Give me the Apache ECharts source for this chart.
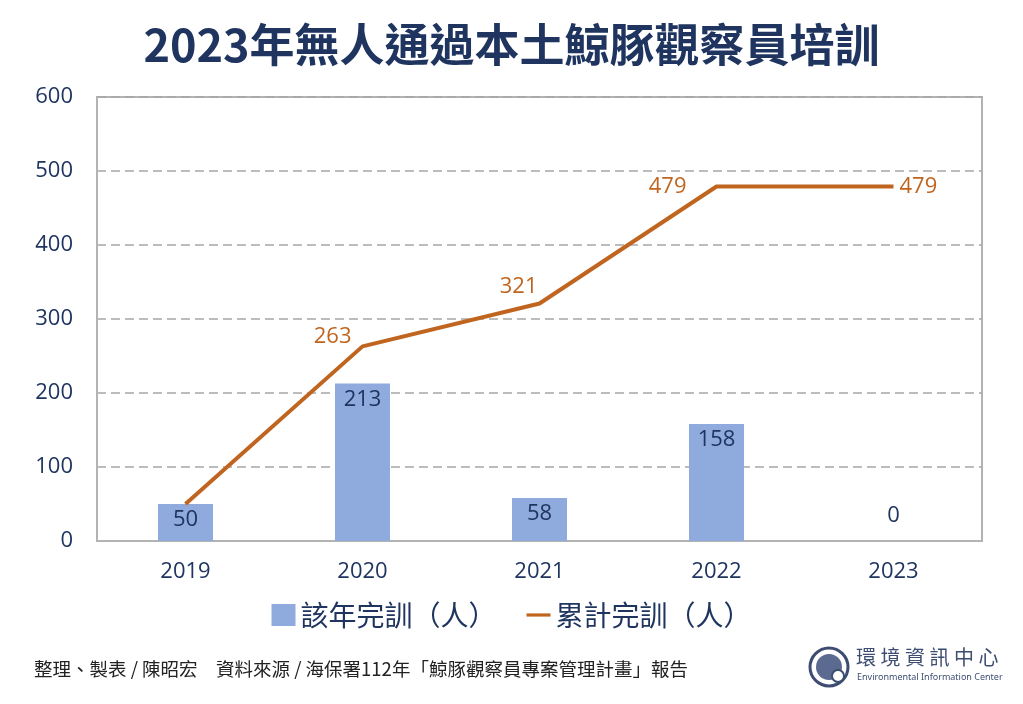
<!DOCTYPE html>
<html><head><meta charset="utf-8">
<script src="https://cdn.jsdelivr.net/npm/echarts@6/dist/echarts.min.js"></script>
<style>html,body{margin:0;padding:0;background:#fff}#c{width:1023px;height:704px}</style>
</head><body><div id="c"></div>
<script>
const categories = ['2019','2020','2021','2022','2023'];
const yearly = [50, 213, 58, 158, 0];
const cumulative = [50, 263, 321, 479, 479];
const seriesNames = ['該年完訓（人）', '累計完訓（人）'];
const titleText = '2023年無人通過本土鯨豚觀察員培訓';
const footerText = '整理、製表 / 陳昭宏　資料來源 / 海保署112年「鯨豚觀察員專案管理計畫」報告';

const FONT = '"Noto Sans CJK TC", "Noto Sans", sans-serif';
const NUMFONT = '"Open Sans", "Noto Sans", sans-serif';
const NAVY = '#1f3560';
const ORANGE = '#c0651f';
const lineLabelOffsets = [[0, 0], [-5, -10], [4, -17], [-24, 0], [0, 0]];
const lineLabelPos = ['top', 'left', 'left', 'left', 'right'];

const chart = echarts.init(document.getElementById('c'), null, {renderer: 'canvas'});
chart.setOption({
  backgroundColor: '#fff',
  animation: false,
  title: {
    text: titleText, left: 'center', top: 17,
    textStyle: {fontFamily: FONT, fontSize: 45, fontWeight: 'bold', color: NAVY}
  },
  grid: {left: 97, right: 41, top: 97, bottom: 163, show: true, borderColor: '#b3b3b3', borderWidth: 2},
  legend: {
    data: [
      {name: seriesNames[0], icon: 'rect'},
      {name: seriesNames[1], icon: 'path://M0,0 H30 V4 H0 Z', itemStyle: {color: ORANGE}}
    ],
    left: 'center', top: 596, itemGap: 30, itemWidth: 24, itemHeight: 22,
    textStyle: {fontFamily: FONT, fontSize: 28, color: NAVY}
  },
  xAxis: {
    type: 'category', data: categories,
    axisLine: {lineStyle: {color: '#b3b3b3', width: 2}},
    axisTick: {show: false},
    axisLabel: {fontFamily: NUMFONT, fontSize: 22, color: NAVY, margin: 20}
  },
  yAxis: {
    type: 'value', min: 0, max: 600, interval: 100,
    axisLine: {show: true, lineStyle: {color: '#b3b3b3', width: 2}},
    axisTick: {show: false},
    axisLabel: {fontFamily: NUMFONT, fontSize: 22, color: NAVY, margin: 24},
    splitLine: {lineStyle: {color: '#a6a6a6', type: [9, 5], width: 1.5}}
  },
  series: [
    {
      name: seriesNames[0], type: 'bar', data: yearly.map((v) => v === 0
        ? {value: v, label: {position: 'top', distance: 14}}
        : v), barWidth: 55,
      itemStyle: {color: '#8faadc'},
      label: {show: true, position: 'insideTop', distance: 5, fontFamily: NUMFONT, fontSize: 22, color: NAVY}
    },
    {
      name: seriesNames[1], type: 'line', data: cumulative.map((v, i) => ({
        value: v,
        label: {show: i !== 0, position: lineLabelPos[i], offset: lineLabelOffsets[i]}
      })),
      symbol: 'circle', symbolSize: 0, showSymbol: true,
      lineStyle: {color: ORANGE, width: 4},
      itemStyle: {color: ORANGE},
      label: {show: true, fontFamily: NUMFONT, fontSize: 22, color: ORANGE, distance: 6}
    }
  ],
  graphic: [
    {type: 'text', left: 34, top: 660, style: {text: footerText, font: '18.5px ' + FONT, fill: '#222'}},
    {type: 'circle', shape: {cx: 829, cy: 667, r: 19}, style: {fill: '#fff', stroke: '#3d4d72', lineWidth: 3}},
    {type: 'circle', shape: {cx: 829, cy: 667, r: 13}, style: {fill: '#5a6a90'}},
    {type: 'circle', shape: {cx: 838, cy: 676, r: 6}, style: {fill: '#fff', stroke: '#3d4d72', lineWidth: 2}},
    {type: 'text', left: 856, top: 647, style: {text: '環 境 資 訊 中 心', font: '20px ' + FONT, fill: '#3d4d72'}},
    {type: 'text', left: 857, top: 673, style: {text: 'Environmental Information Center', font: '9px "Noto Sans", sans-serif', fill: '#3d4d72'}}
  ]
});
</script></body></html>
